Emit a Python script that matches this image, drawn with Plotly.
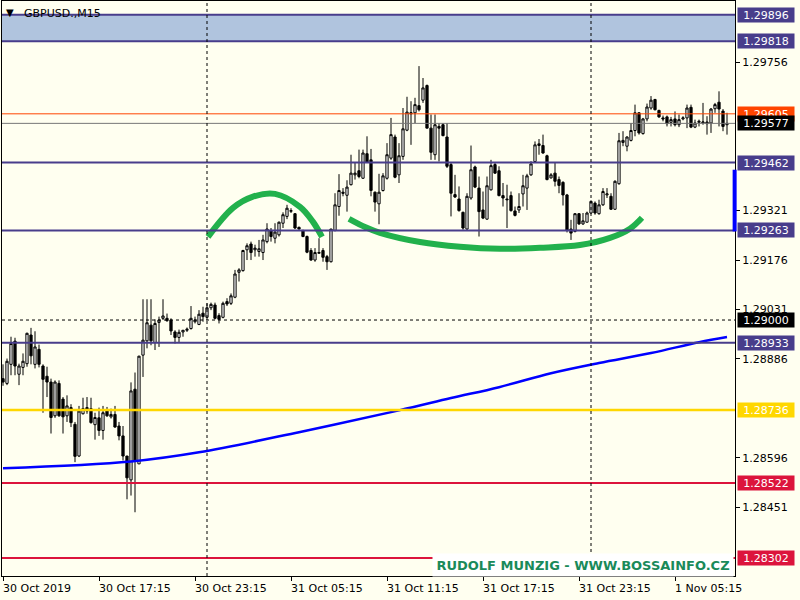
import plotly.graph_objects as go

# ---- data (GBPUSD M15) ----
opens = [1.28828,1.28814,1.28870,1.28938,1.28841,1.28861,1.28872,1.28956,1.28870,1.28914,
         1.28865,1.28835,1.28818,1.28719,1.28814,1.28768,1.28719,1.28743,1.28694,1.28601,
         1.28725,1.28743,1.28740,1.28693,1.28713,1.28676,1.28733,1.28716,1.28723,1.28689,
         1.28660,1.28601,1.28531,1.28797,1.28578,1.28897,1.28939,1.28985,1.28934,1.28993,
         1.29005,1.29005,1.29000,1.28965,1.28949,1.28965,1.28970,1.28975,1.28995,1.28987,
         1.29020,1.29008,1.29036,1.29044,1.29013,1.29008,1.29054,1.29049,1.29067,1.29140,
         1.29145,1.29206,1.29223,1.29206,1.29201,1.29198,1.29230,1.29263,1.29240,1.29250,
         1.29284,1.29304,1.29319,1.29312,1.29272,1.29262,1.29245,1.29204,1.29176,1.29196,
         1.29204,1.29186,1.29171,1.29263,1.29333,1.29375,1.29366,1.29397,1.29426,1.29438,
         1.29416,1.29488,1.29470,1.29375,1.29341,1.29380,1.29416,1.29475,1.29537,1.29426,
         1.29480,1.29557,1.29605,1.29608,1.29629,1.29645,1.29688,1.29563,1.29485,1.29568,
         1.29573,1.29537,1.29456,1.29368,1.29355,1.29316,1.29267,1.29358,1.29449,1.29387,
         1.29323,1.29296,1.29382,1.29456,1.29438,1.29365,1.29355,1.29365,1.29320,1.29323,
         1.29370,1.29387,1.29426,1.29465,1.29512,1.29512,1.29482,1.29417,1.29431,1.29412,
         1.29404,1.29367,1.29267,1.29260,1.29312,1.29282,1.29287,1.29314,1.29343,1.29312,
         1.29338,1.29367,1.29363,1.29325,1.29400,1.29521,1.29510,1.29527,1.29556,1.29608,
         1.29547,1.29590,1.29622,1.29647,1.29615,1.29593,1.29596,1.29580,1.29590,1.29573,
         1.29590,1.29593,1.29624,1.29566,1.29580,1.29578,1.29576,1.29578,1.29620,1.29639,
         1.29613,1.29573]
highs = [1.28870,1.28887,1.28951,1.28948,1.28872,1.28902,1.28963,1.28977,1.28967,1.28928,
         1.28870,1.28863,1.28828,1.28823,1.28823,1.28774,1.28779,1.28753,1.28701,1.28748,
         1.28772,1.28774,1.28772,1.28728,1.28743,1.28748,1.28745,1.28740,1.28748,1.28701,
         1.28689,1.28601,1.28817,1.28846,1.28895,1.29061,1.29061,1.29061,1.29002,1.29010,
         1.29061,1.29019,1.29005,1.28970,1.28972,1.28970,1.28978,1.29041,1.29010,1.29029,
         1.29039,1.29049,1.29051,1.29051,1.29020,1.29054,1.29064,1.29078,1.29147,1.29152,
         1.29206,1.29225,1.29230,1.29221,1.29235,1.29250,1.29284,1.29270,1.29284,1.29289,
         1.29316,1.29338,1.29328,1.29314,1.29274,1.29265,1.29248,1.29211,1.29211,1.29240,
         1.29211,1.29191,1.29267,1.29372,1.29428,1.29387,1.29410,1.29485,1.29461,1.29500,
         1.29500,1.29539,1.29502,1.29377,1.29429,1.29431,1.29519,1.29593,1.29544,1.29519,
         1.29622,1.29655,1.29642,1.29652,1.29745,1.29710,1.29691,1.29603,1.29603,1.29578,
         1.29578,1.29578,1.29461,1.29426,1.29392,1.29318,1.29372,1.29512,1.29453,1.29421,
         1.29377,1.29421,1.29470,1.29461,1.29451,1.29402,1.29397,1.29377,1.29333,1.29372,
         1.29426,1.29429,1.29466,1.29524,1.29531,1.29544,1.29485,1.29431,1.29461,1.29421,
         1.29407,1.29370,1.29294,1.29314,1.29314,1.29314,1.29318,1.29351,1.29348,1.29353,
         1.29387,1.29387,1.29372,1.29410,1.29549,1.29554,1.29539,1.29578,1.29632,1.29610,
         1.29593,1.29635,1.29657,1.29649,1.29617,1.29600,1.29600,1.29596,1.29612,1.29603,
         1.29598,1.29632,1.29632,1.29588,1.29588,1.29637,1.29598,1.29622,1.29637,1.29671,
         1.29619,1.29608]
lows = [1.28807,1.28809,1.28838,1.28838,1.28809,1.28838,1.28863,1.28870,1.28858,1.28861,
        1.28728,1.28774,1.28667,1.28713,1.28716,1.28667,1.28701,1.28686,1.28583,1.28598,
        1.28723,1.28725,1.28696,1.28649,1.28660,1.28649,1.28716,1.28711,1.28684,1.28647,
        1.28588,1.28474,1.28485,1.28436,1.28578,1.28833,1.28917,1.28926,1.28912,1.28921,
        1.29000,1.28995,1.28956,1.28931,1.28934,1.28951,1.28965,1.28972,1.28990,1.28985,
        1.28995,1.29000,1.29029,1.29002,1.28990,1.29005,1.29041,1.29044,1.29064,1.29113,
        1.29142,1.29176,1.29176,1.29186,1.29186,1.29176,1.29225,1.29230,1.29225,1.29245,
        1.29270,1.29296,1.29314,1.29267,1.29265,1.29243,1.29196,1.29174,1.29171,1.29194,
        1.29171,1.29147,1.29169,1.29260,1.29306,1.29363,1.29318,1.29395,1.29412,1.29416,
        1.29414,1.29461,1.29363,1.29318,1.29281,1.29377,1.29412,1.29470,1.29416,1.29402,
        1.29470,1.29554,1.29514,1.29578,1.29612,1.29637,1.29563,1.29470,1.29470,1.29465,
        1.29539,1.29446,1.29304,1.29358,1.29318,1.29265,1.29265,1.29353,1.29387,1.29245,
        1.29296,1.29294,1.29380,1.29429,1.29363,1.29333,1.29270,1.29318,1.29304,1.29314,
        1.29333,1.29323,1.29423,1.29464,1.29485,1.29488,1.29410,1.29415,1.29392,1.29372,
        1.29336,1.29257,1.29235,1.29257,1.29279,1.29279,1.29286,1.29312,1.29309,1.29309,
        1.29335,1.29358,1.29323,1.29323,1.29397,1.29510,1.29495,1.29524,1.29539,1.29544,
        1.29544,1.29583,1.29617,1.29615,1.29593,1.29583,1.29568,1.29568,1.29568,1.29566,
        1.29586,1.29563,1.29563,1.29563,1.29568,1.29573,1.29544,1.29549,1.29608,1.29568,
        1.29554,1.29544]
closes = [1.28818,1.28879,1.28931,1.28865,1.28865,1.28879,1.28961,1.28895,1.28921,1.28870,
          1.28826,1.28818,1.28714,1.28818,1.28719,1.28716,1.28748,1.28699,1.28600,1.28733,
          1.28740,1.28733,1.28699,1.28714,1.28676,1.28728,1.28719,1.28723,1.28686,1.28660,
          1.28601,1.28537,1.28792,1.28586,1.28894,1.28941,1.28992,1.28939,1.28990,1.29000,
          1.29012,1.28998,1.28968,1.28949,1.28964,1.28970,1.28973,1.29005,1.29000,1.29017,
          1.29010,1.29036,1.29046,1.29005,1.29002,1.29049,1.29047,1.29071,1.29135,1.29147,
          1.29204,1.29218,1.29198,1.29211,1.29209,1.29235,1.29267,1.29245,1.29258,1.29287,
          1.29309,1.29328,1.29321,1.29270,1.29267,1.29245,1.29199,1.29176,1.29198,1.29198,
          1.29184,1.29171,1.29267,1.29338,1.29380,1.29372,1.29390,1.29431,1.29431,1.29421,
          1.29490,1.29463,1.29380,1.29346,1.29375,1.29423,1.29485,1.29544,1.29419,1.29482,
          1.29561,1.29610,1.29608,1.29632,1.29617,1.29681,1.29563,1.29492,1.29573,1.29563,
          1.29541,1.29451,1.29372,1.29361,1.29321,1.29270,1.29363,1.29441,1.29390,1.29318,
          1.29299,1.29394,1.29453,1.29431,1.29365,1.29358,1.29353,1.29321,1.29307,1.29333,
          1.29394,1.29423,1.29458,1.29514,1.29517,1.29490,1.29412,1.29426,1.29407,1.29395,
          1.29367,1.29263,1.29255,1.29312,1.29282,1.29291,1.29314,1.29348,1.29314,1.29338,
          1.29377,1.29370,1.29325,1.29407,1.29526,1.29527,1.29537,1.29556,1.29608,1.29549,
          1.29590,1.29625,1.29645,1.29617,1.29596,1.29590,1.29576,1.29588,1.29573,1.29588,
          1.29593,1.29622,1.29566,1.29578,1.29583,1.29581,1.29581,1.29619,1.29632,1.29619,
          1.29568,1.29577]
bars = list(range(len(opens)))

ma_bars = [0, 32, 49, 74, 99, 112, 124, 137, 149, 162, 174, 181]
ma_values = [1.28565, 1.28585, 1.28612, 1.28671, 1.28735, 1.28771, 1.28803, 1.28844,
             1.28874, 1.28903, 1.28935, 1.28950]

arc1_bars = [51.25, 57.5, 62.5, 68, 74.25, 77.5, 79.75]
arc1_prices = [1.29244, 1.29329, 1.29362, 1.29370, 1.29332, 1.29288, 1.29244]
arc2_bars = [86.5, 90.5, 94.25, 104.25, 114.25, 124.25, 134.25, 144.25, 151.75, 156.75, 159.75]
arc2_prices = [1.29297, 1.29273, 1.29256, 1.29229, 1.29215, 1.29209, 1.29212, 1.29220,
               1.29241, 1.29268, 1.29300]

xtick_bars = [0, 24, 48, 72, 96, 120, 144, 168]
xtick_labels = ["30 Oct 2019", "30 Oct 17:15", "30 Oct 23:15", "31 Oct 05:15",
                "31 Oct 11:15", "31 Oct 17:15", "31 Oct 23:15", "1 Nov 05:15"]
separator_bars = [51, 147]

plain_ticks = [1.29756, 1.29321, 1.29176, 1.29031, 1.28886, 1.28596, 1.28451]

zone_top, zone_bottom = 1.29896, 1.29818
level_lines = [  # price, colour, width, dash
    (1.29896, "#483D8B", 2, None),
    (1.29818, "#483D8B", 2, None),
    (1.29605, "#FF4500", 1, None),
    (1.29577, "#777777", 1, None),
    (1.29462, "#483D8B", 2, None),
    (1.29263, "#483D8B", 2, None),
    (1.29000, "#000000", 1, "3px,3px"),
    (1.28933, "#483D8B", 2, None),
    (1.28736, "#FFD700", 2.5, None),
    (1.28522, "#DC143C", 2, None),
    (1.28302, "#DC143C", 2, None),
]
boxed_labels = [  # price, background
    (1.29896, "#483D8B"), (1.29818, "#483D8B"), (1.29605, "#FF4500"),
    (1.29577, "#000000"), (1.29462, "#483D8B"), (1.29263, "#483D8B"),
    (1.29000, "#000000"), (1.28933, "#483D8B"), (1.28736, "#FFD700"),
    (1.28522, "#DC143C"), (1.28302, "#DC143C"),
]
marker_bar_prices = (1.29260, 1.29441)

BG = "#FFFFF0"
FONT = "DejaVu Sans"

fig = go.Figure()
fig.add_trace(go.Candlestick(
    x=bars, open=opens, high=highs, low=lows, close=closes,
    increasing=dict(line=dict(color="black", width=1), fillcolor="white"),
    decreasing=dict(line=dict(color="black", width=1), fillcolor="black"),
    whiskerwidth=0, showlegend=False, hoverinfo="skip"))
fig.add_trace(go.Scatter(x=ma_bars, y=ma_values, mode="lines",
                         line=dict(color="#0000FF", width=2.5, shape="spline"),
                         showlegend=False, hoverinfo="skip"))
for bx, py in [(arc1_bars, arc1_prices), (arc2_bars, arc2_prices)]:
    fig.add_trace(go.Scatter(x=bx, y=py, mode="lines",
                             line=dict(color="#22B14C", width=6, shape="spline"),
                             showlegend=False, hoverinfo="skip"))

shapes = [dict(type="rect", xref="paper", x0=0, x1=1, yref="y", y0=zone_bottom, y1=zone_top,
               fillcolor="#B0C4DE", line=dict(width=0), layer="below")]
for p, c, w, d in level_lines:
    ln = dict(color=c, width=w)
    if d:
        ln["dash"] = d
    shapes.append(dict(type="line", xref="paper", x0=0, x1=1, yref="y", y0=p, y1=p,
                       line=ln, layer="above"))
for sb in separator_bars:
    shapes.append(dict(type="line", xref="x", x0=sb, x1=sb, yref="paper", y0=0, y1=1,
                       line=dict(color="black", width=1, dash="3px,3px"), layer="above"))
shapes.append(dict(type="line", xref="paper", x0=0.9995, x1=0.9995, yref="y",
                   y0=marker_bar_prices[0], y1=marker_bar_prices[1],
                   line=dict(color="#0000FF", width=4), layer="above"))

ann = []
for p, c in boxed_labels:
    ann.append(dict(xref="paper", x=1, xanchor="left", xshift=2, yref="y", y=p,
                    yanchor="middle", text=f"{p:.5f}", showarrow=False,
                    bgcolor=c, width=54, height=12, borderpad=1,
                    font=dict(family=FONT, size=11, color="white")))
for b, t in zip(xtick_bars, xtick_labels):
    ann.append(dict(xref="x", x=b, xanchor="left", xshift=-2, yref="paper", y=-0.021,
                    yanchor="middle", text=t, showarrow=False,
                    font=dict(family=FONT, size=11, color="black")))
ann.append(dict(xref="paper", x=0.003, xanchor="left", yref="paper", y=0.98,
                yanchor="middle", text="▼", showarrow=False,
                font=dict(family=FONT, size=10, color="black")))
ann.append(dict(xref="paper", x=0.0273, xanchor="left", yref="paper", y=0.979,
                yanchor="middle", text="GBPUSD.,M15", showarrow=False,
                font=dict(family=FONT, size=11, color="black")))
ann.append(dict(xref="paper", x=0.5866, xanchor="left", yref="paper", y=0.0191,
                yanchor="middle", text="<b>RUDOLF MUNZIG - WWW.BOSSAINFO.CZ</b>",
                showarrow=False, bgcolor="white", width=300, height=22, borderpad=0,
                font=dict(family=FONT, size=13, color="#1A8A5A")))

fig.update_layout(
    width=800, height=600,
    margin=dict(l=2, r=65, t=1, b=24),
    paper_bgcolor=BG, plot_bgcolor=BG,
    boxgap=0.2,
    shapes=shapes, annotations=ann,
    showlegend=False,
    xaxis=dict(range=[-0.25, 183], showgrid=False, zeroline=False,
               showline=True, linecolor="black", linewidth=1, mirror=True,
               ticks="outside", tickvals=xtick_bars, ticklen=4, tickcolor="black",
               showticklabels=False, rangeslider=dict(visible=False), fixedrange=True),
    yaxis=dict(range=[1.28249, 1.29936], side="right", showgrid=False, zeroline=False,
               showline=True, linecolor="black", linewidth=1, mirror=True,
               ticks="outside", ticklen=4, tickcolor="black",
               tickvals=plain_ticks, ticktext=[f"{v:.5f}" for v in plain_ticks],
               tickfont=dict(family=FONT, size=11, color="black"), fixedrange=True),
)

fig.write_html("out.html", config={"displayModeBar": False},
               post_script="document.body.style.margin='0';document.body.style.background='#FFFFF0';")
